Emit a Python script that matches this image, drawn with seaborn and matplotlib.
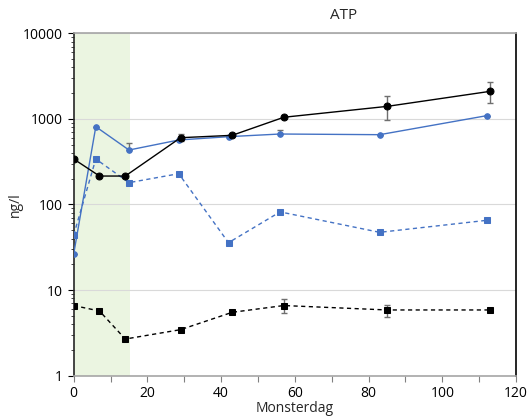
import numpy as np
import pandas as pd
import seaborn as sns
import matplotlib.pyplot as plt
from matplotlib.ticker import LogLocator, NullFormatter, FixedLocator

# monsterdagen en ATP-waarden (ng/l)
dag_zwart = [0, 7, 14, 29, 43, 57, 85, 113]
atp_zwart = [340, 215, 215, 603, 643, 1045, 1400, 2100]
err_zwart_lo = [0, 0, 0, 50, 0, 0, 430, 550]
err_zwart_hi = [0, 0, 0, 60, 0, 0, 450, 630]

dag_blauw = [0, 6, 15, 28.5, 42, 56, 83, 112]
atp_blauw = [26.4, 811, 433, 567, 620, 666, 654, 1090]
err_blauw_lo = [0, 0, 0, 0, 0, 0, 0, 0]
err_blauw_hi = [0, 0, 88, 0, 0, 80, 0, 0]

dag_blauw_st = [0, 6, 15, 28.5, 42, 56, 83, 112]
atp_blauw_st = [44, 340, 180, 229, 35.8, 82, 47.3, 65.3]

dag_zwart_st = [0, 7, 14, 29, 43, 57, 85, 113]
atp_zwart_st = [6.6, 5.7, 2.68, 3.45, 5.5, 6.6, 5.86, 5.86]
err_zst_lo = [0, 0, 0, 0, 0, 1.2, 1.06, 0]
err_zst_hi = [0, 0, 0, 0, 0, 1.2, 0.91, 0]

periode = [0, 15.3]  # groen gearceerde periode

blauw = "#4472C4"

sns.set_style("white")
plt.rcParams['font.family'] = ['Open Sans', 'DejaVu Sans']

fig = plt.figure(figsize=(5.32, 4.20), dpi=100)
ax = fig.add_axes([0.1385, 0.1055, 0.8315, 0.8152])

ax.axvspan(periode[0], periode[1], color="#EBF5E1", zorder=0, lw=0)

for d, a, lo, hi in [(dag_zwart, atp_zwart, err_zwart_lo, err_zwart_hi),
                     (dag_blauw, atp_blauw, err_blauw_lo, err_blauw_hi),
                     (dag_zwart_st, atp_zwart_st, err_zst_lo, err_zst_hi)]:
    ax.errorbar(d, a, yerr=[lo, hi], fmt="none", ecolor="#6f6f6f",
                elinewidth=1, capsize=2, capthick=1, zorder=2)

df1 = pd.DataFrame({"dag": dag_blauw, "atp": atp_blauw})
sns.lineplot(data=df1, x="dag", y="atp", ax=ax, color=blauw, lw=1.0,
             marker="o", markersize=4, markeredgecolor=blauw, zorder=3)
df2 = pd.DataFrame({"dag": dag_blauw_st, "atp": atp_blauw_st})
sns.lineplot(data=df2, x="dag", y="atp", ax=ax, color=blauw, lw=1.0,
             linestyle=(0, (3, 2.5)), marker="s", markersize=4,
             markeredgecolor=blauw, zorder=3)
df3 = pd.DataFrame({"dag": dag_zwart, "atp": atp_zwart})
sns.lineplot(data=df3, x="dag", y="atp", ax=ax, color="black", lw=1.0,
             marker="o", markersize=5, markeredgecolor="black", zorder=4)
df4 = pd.DataFrame({"dag": dag_zwart_st, "atp": atp_zwart_st})
sns.lineplot(data=df4, x="dag", y="atp", ax=ax, color="black", lw=1.0,
             linestyle=(0, (3, 2.5)), marker="s", markersize=5,
             markeredgecolor="black", zorder=4)

ax.set_yscale("log")
ax.set_ylim(1, 10000)
ax.set_xlim(0, 120)
ax.set_yticks([1, 10, 100, 1000, 10000])
ax.set_yticklabels(["1", "10", "100", "1000", "10000"])
ax.yaxis.set_minor_locator(LogLocator(base=10, subs=np.arange(2, 10)))
ax.yaxis.set_minor_formatter(NullFormatter())
ax.set_xticks(range(0, 121, 20))
ax.xaxis.set_minor_locator(FixedLocator(range(10, 120, 20)))

ax.grid(axis="y", which="major", color="#d9d9d9", lw=0.8)
ax.tick_params(axis="both", which="major", direction="out", length=4, width=0.8,
               labelsize=10, colors="black", left=True, bottom=True)
ax.tick_params(axis="y", which="minor", direction="out", length=2.5, width=0.6, left=True)
ax.tick_params(axis="x", which="minor", direction="out", length=4, width=0.8, bottom=True)
ax.tick_params(axis="x", which="both", color="#808080")

ax.spines["top"].set_color("#a6a6a6")
ax.spines["bottom"].set_color("#a6a6a6")
ax.spines["left"].set_color("#262626")
ax.spines["right"].set_color("black")
for s in ax.spines.values():
    s.set_linewidth(1.2)

ax.set_xlabel("Monsterdag", fontsize=10, labelpad=0)
ax.set_ylabel("ng/l", fontsize=10, labelpad=0)
fig.text(0.645, 0.962, "ATP", ha="center", va="center", fontsize=11)

fig.savefig("out.png", dpi=100)
